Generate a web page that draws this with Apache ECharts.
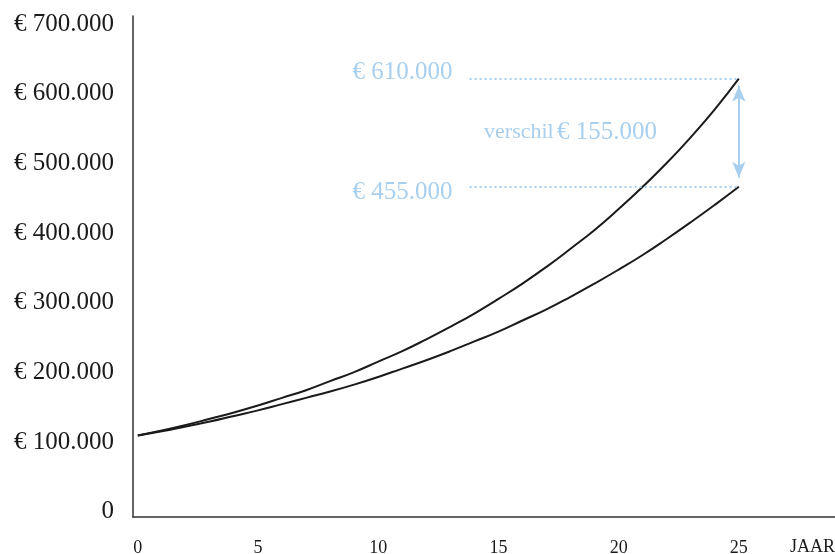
<!DOCTYPE html>
<html>
<head>
<meta charset="utf-8">
<script src="https://cdn.jsdelivr.net/npm/echarts@6/dist/echarts.min.js"></script>
<style>
  html, body { margin: 0; padding: 0; background: #fff; }
  #chart { width: 835px; height: 554px; }
</style>
</head>
<body>
<div id="chart"></div>
<script>
// Years on the horizontal axis
const years = [0,1,2,3,4,5,6,7,8,9,10,11,12,13,14,15,16,17,18,19,20,21,22,23,24,25];

// Capital growth, higher return (euro)
const highReturn = [98000,105000,113000,122000,131000,141000,152000,163000,176000,189000,
  204000,219000,236000,254000,273000,294000,316000,340000,366000,393000,
  423000,455000,489000,526000,566000,610000];

// Capital growth, lower return (euro)
const lowReturn = [98000,104000,111000,118000,126000,134000,143000,152000,161000,171000,
  182000,194000,206000,219000,233000,247000,263000,279000,297000,316000,
  336000,357000,380000,404000,429000,455000];

// Tick labels
const yTicks = [0,100000,200000,300000,400000,500000,600000,700000];
const xTicks = [0,5,10,15,20,25];
const xUnit = 'JAAR';

const FONT = '"Liberation Serif", "DejaVu Serif", serif';
const INK = '#1a1a1a';
const BLUE = '#a9cfee';

function euro(v) {
  if (v === 0) return '0';
  return '\u20AC ' + String(v).replace(/\B(?=(\d{3})+(?!\d))/g, '.');
}

const lastYear = years[years.length - 1];
const hiEnd = highReturn[highReturn.length - 1];
const loEnd = lowReturn[lowReturn.length - 1];
const leaderStart = 13.8;

const chart = echarts.init(document.getElementById('chart'), null, { renderer: 'canvas' });

// Annotation label for an end value, set just above or below its leader line
function endLabel(v, above) {
  return {
    show: true, position: 'start', distance: 17, formatter: euro(v),
    fontFamily: FONT, fontSize: 25, color: BLUE,
    verticalAlign: above ? 'bottom' : 'top', lineHeight: 12
  };
}

chart.setOption({
  animation: false,
  backgroundColor: '#ffffff',
  grid: { left: 133, right: 0, top: 16, bottom: 37, containLabel: false, outerBoundsMode: 'none' },
  xAxis: {
    type: 'value',
    min: -0.2,
    max: 29,
    axisLine: { show: true, onZero: false, lineStyle: { color: '#333', width: 1.5 } },
    axisTick: { show: false },
    splitLine: { show: false },
    axisLabel: {
      customValues: xTicks,
      margin: 22,
      fontFamily: FONT,
      fontSize: 18,
      color: INK
    }
  },
  yAxis: {
    type: 'value',
    min: -19000,
    max: 700000,
    axisLine: { show: true, onZero: false, lineStyle: { color: '#333', width: 1.5 } },
    axisTick: { show: false },
    splitLine: { show: false },
    axisLabel: {
      customValues: yTicks,
      margin: 19,
      fontFamily: FONT,
      fontSize: 25,
      color: INK,
      verticalAlign: 'top',
      lineHeight: 16,
      formatter: euro
    }
  },
  graphic: [{
    type: 'text',
    right: 0,
    top: 538,
    style: { text: xUnit, font: '18px ' + FONT, fill: INK }
  }],
  series: [
    {
      name: 'hoog',
      type: 'line',
      data: years.map((y, i) => [y, highReturn[i]]),
      smooth: true,
      showSymbol: false,
      lineStyle: { color: INK, width: 2 },
      markLine: {
        silent: true,
        symbol: ['none', 'none'],
        animation: false,
        data: [
          [
            { coord: [leaderStart, hiEnd], label: endLabel(hiEnd, true),
              lineStyle: { color: BLUE, width: 2, type: [2, 3] } },
            { coord: [lastYear, hiEnd] }
          ],
          [
            { coord: [leaderStart, loEnd], label: endLabel(loEnd, false),
              lineStyle: { color: BLUE, width: 2, type: [2, 3] } },
            { coord: [lastYear, loEnd] }
          ],
          [
            { coord: [lastYear, hiEnd - 10000], symbol: 'arrow', symbolSize: [10, 16],
              label: { show: false },
              lineStyle: { color: BLUE, width: 2, type: 'solid' } },
            { coord: [lastYear, loEnd + 13000], symbol: 'arrow', symbolSize: [10, 16] }
          ]
        ]
      },
      markPoint: {
        silent: true,
        symbol: 'circle',
        symbolSize: 0,
        data: [{
          coord: [18, (hiEnd + loEnd) / 2],
          label: {
            show: true,
            position: 'inside',
            formatter: '{a|verschil} {b|' + euro(hiEnd - loEnd) + '}',
            rich: {
              a: { fontFamily: FONT, fontSize: 22, color: BLUE },
              b: { fontFamily: FONT, fontSize: 25, color: BLUE }
            }
          }
        }]
      }
    },
    {
      name: 'laag',
      type: 'line',
      data: years.map((y, i) => [y, lowReturn[i]]),
      smooth: true,
      showSymbol: false,
      lineStyle: { color: INK, width: 2 }
    }
  ]
});
</script>
</body>
</html>
